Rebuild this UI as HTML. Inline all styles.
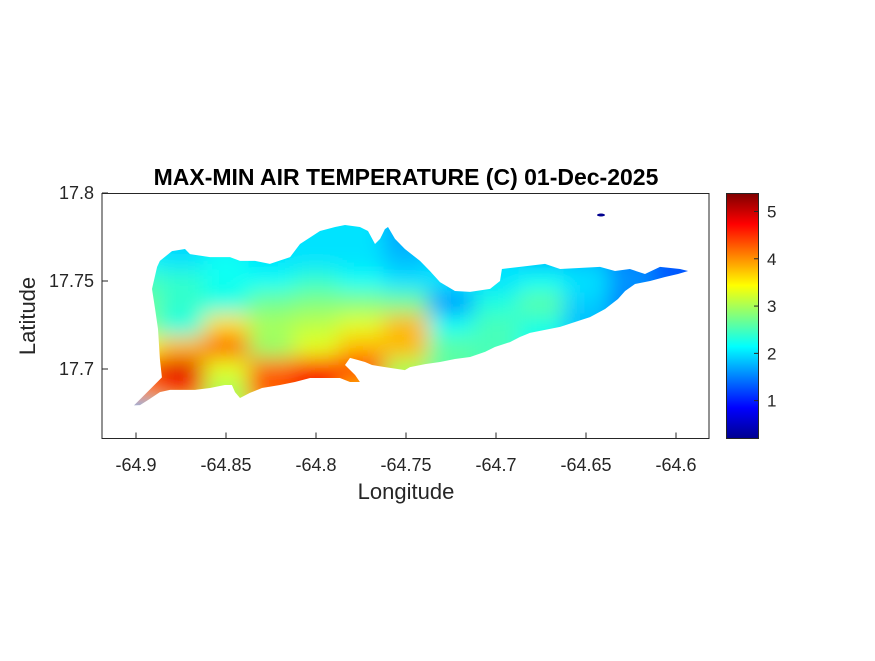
<!DOCTYPE html>
<html><head><meta charset="utf-8"><style>
body{margin:0;background:#fff;}
svg text{font-family:"Liberation Sans",Arial,sans-serif;fill:#262626;}
</style></head><body>
<svg id="chart" width="875" height="656" xmlns="http://www.w3.org/2000/svg">
<defs>
<filter id="blur" x="-20%" y="-20%" width="140%" height="140%"><feGaussianBlur stdDeviation="11"/></filter>
<clipPath id="island"><path id="coastpath" d=""/></clipPath>
<linearGradient id="jet" x1="0" y1="1" x2="0" y2="0">
<stop offset="0" stop-color="#00008f"/><stop offset="0.125" stop-color="#0000ff"/>
<stop offset="0.375" stop-color="#00ffff"/><stop offset="0.625" stop-color="#ffff00"/>
<stop offset="0.875" stop-color="#ff0000"/><stop offset="1" stop-color="#800000"/>
</linearGradient>
</defs>
<g id="heat" clip-path="url(#island)"><g id="cells" filter="url(#blur)"></g></g>
<ellipse cx="601" cy="215" rx="4" ry="1.5" fill="#00008f"/>
<rect x="102" y="193.5" width="607" height="245" fill="none" stroke="#262626" stroke-width="1"/>
<g id="axes"></g>
<text x="406" y="185" text-anchor="middle" font-size="23" font-weight="bold" style="fill:#000">MAX-MIN AIR TEMPERATURE (C) 01-Dec-2025</text>
<text x="406" y="499" text-anchor="middle" font-size="22">Longitude</text>
<text transform="translate(35,316) rotate(-90)" text-anchor="middle" font-size="22">Latitude</text>
<rect x="726.5" y="193.5" width="32" height="245" fill="url(#jet)" stroke="#262626" stroke-width="1"/>
<g id="cbar"></g>
</svg>
<script>
const lonTicks=[-64.9,-64.85,-64.8,-64.75,-64.7,-64.65,-64.6];
const latTicks=[17.7,17.75,17.8];
const cbTicks=[1,2,3,4,5];
const gridLon=[-64.9,-64.875,-64.85,-64.825,-64.8,-64.775,-64.75,-64.725,-64.7,-64.675,-64.65,-64.625,-64.6,-64.575];
const gridLat=[17.775,17.7625,17.75,17.7375,17.725,17.7125,17.7,17.6875,17.675];
const gridVals=[
[2.0,1.9,2.0,2.0,2.0,2.0,1.7,1.8,1.9,1.7,1.6,1.4,1.3,1.3],
[2.1,2.0,2.2,2.0,2.0,2.0,1.8,2.0,2.0,1.8,1.8,1.5,1.3,1.3],
[2.5,2.4,2.2,2.2,2.4,2.2,2.0,2.0,2.0,2.2,2.0,1.6,1.3,1.3],
[2.7,2.4,2.3,2.7,2.8,2.8,2.7,1.6,2.3,2.6,1.9,1.5,1.4,1.4],
[2.8,2.3,3.6,3.0,3.1,3.3,3.8,2.2,2.5,2.3,1.8,1.6,1.5,1.5],
[3.4,3.8,4.3,2.9,3.3,3.8,3.8,2.6,2.5,2.2,2.0,1.8,1.6,1.6],
[4.5,4.9,3.3,4.2,4.6,4.6,3.0,2.6,2.5,2.3,2.0,1.8,1.6,1.6],
[4.0,4.5,3.0,4.4,4.8,3.8,3.0,2.6,2.4,2.2,2.0,1.8,1.6,1.6],
[1.8,3.0,3.0,3.6,3.6,3.0,2.8,2.5,2.3,2.2,2.0,1.8,1.6,1.6]];
const cMin=0.2,cMax=5.38;
const coastLon=[-64.9011,-64.8922,-64.8856,-64.8867,-64.8878,-64.8894,-64.8911,-64.8883,-64.8867,-64.88,-64.8728,-64.87,-64.8589,-64.8478,-64.8422,-64.8339,-64.8256,-64.8144,-64.8089,-64.7978,-64.7894,-64.7839,-64.7756,-64.7711,-64.7672,-64.7644,-64.7617,-64.76,-64.7561,-64.7506,-64.7422,-64.7367,-64.7311,-64.7228,-64.7144,-64.7033,-64.6978,-64.6967,-64.6867,-64.6728,-64.6644,-64.6422,-64.6339,-64.6256,-64.6172,-64.6089,-64.5978,-64.5933,-64.5989,-64.6061,-64.6144,-64.6228,-64.6283,-64.6322,-64.6394,-64.6478,-64.6561,-64.6644,-64.6728,-64.6811,-64.6867,-64.6922,-64.7006,-64.7061,-64.7144,-64.7228,-64.7311,-64.7394,-64.7478,-64.7506,-64.7589,-64.7656,-64.7689,-64.7728,-64.7767,-64.7811,-64.7839,-64.7783,-64.7756,-64.7811,-64.7867,-64.7922,-64.8033,-64.8117,-64.82,-64.83,-64.8367,-64.8422,-64.845,-64.8467,-64.8506,-64.8589,-64.8672,-64.8756,-64.8811,-64.8867,-64.8933,-64.8978,-64.9011];
const coastLat=[17.6793,17.6884,17.6952,17.7057,17.7227,17.7341,17.7455,17.7580,17.7614,17.7670,17.7682,17.7653,17.7636,17.7636,17.7614,17.7614,17.7597,17.7636,17.7710,17.7784,17.7807,17.7818,17.7807,17.7784,17.7710,17.7739,17.7795,17.7807,17.7739,17.7682,17.7614,17.7557,17.7494,17.7443,17.7438,17.7455,17.7500,17.7568,17.7580,17.7597,17.7568,17.7580,17.7557,17.7568,17.7540,17.7580,17.7568,17.7557,17.7540,17.7523,17.7500,17.7483,17.7443,17.7398,17.7341,17.7295,17.7267,17.7239,17.7222,17.7205,17.7182,17.7153,17.7125,17.7097,17.7068,17.7057,17.7040,17.7028,17.7011,17.6994,17.7006,17.7017,17.7023,17.7040,17.7051,17.7063,17.7023,17.6966,17.6926,17.6926,17.6949,17.6949,17.6949,17.6926,17.6909,17.6892,17.6864,17.6835,17.6869,17.6909,17.6909,17.6892,17.6881,17.6881,17.6881,17.6869,17.6824,17.6795,17.6793];
const X=lon=>136+(lon+64.9)*1800;
const Y=lat=>369-(lat-17.7)*1760;
const ns="http://www.w3.org/2000/svg";
function jet(v){const t=Math.max(0,Math.min(1,(v-cMin)/(cMax-cMin)));
 const c=x=>Math.round(255*Math.max(0,Math.min(1,1.5-Math.abs(4*t-x))));
 return `rgb(${c(3)},${c(2)},${c(1)})`;}
function mk(tag,attrs,parent){const e=document.createElementNS(ns,tag);for(const k in attrs)e.setAttribute(k,attrs[k]);parent.appendChild(e);return e;}
let d='';coastLon.forEach((l,i)=>{d+=(i?'L':'M')+X(l).toFixed(1)+','+Y(coastLat[i]).toFixed(1);});
document.getElementById('coastpath').setAttribute('d',d+'Z');
const cells=document.getElementById('cells');
const dx=0.025*1800,dy=0.0125*1760,pad=40;
const nr=gridLat.length,nc=gridLon.length;
gridLat.forEach((la,r)=>gridLon.forEach((lo,c)=>{
 let x0=X(lo)-dx/2,x1=X(lo)+dx/2+0.5,y0=Y(la)-dy/2,y1=Y(la)+dy/2+0.5;
 if(c===0)x0-=pad; if(c===nc-1)x1+=pad; if(r===0)y0-=pad; if(r===nr-1)y1+=pad;
 const e=mk('rect',{x:x0,y:y0,width:x1-x0,height:y1-y0,fill:jet(gridVals[r][c])},cells);
 
 
}));
const ax=document.getElementById('axes');
lonTicks.forEach(v=>{const x=X(v);
 const t=mk('line',{x1:x,x2:x,y1:438.5,y2:432.5,stroke:'#262626'},ax);
 
 
 const s=mk('text',{x:x,y:471,'text-anchor':'middle','font-size':'18'},ax);s.textContent=String(v);
 
 
});
latTicks.forEach(v=>{const y=Y(v);
 const t=mk('line',{x1:102,x2:108,y1:y,y2:y,stroke:'#262626'},ax);
 
 
 const s=mk('text',{x:94,y:y+6,'text-anchor':'end','font-size':'18'},ax);s.textContent=String(v);
 
 
});
const cb=document.getElementById('cbar');
cbTicks.forEach(v=>{const y=438.5-(v-cMin)/(cMax-cMin)*245;
 const t=mk('line',{x1:758.5,x2:754,y1:y,y2:y,stroke:'#262626'},cb);
 
 
 const s=mk('text',{x:767,y:y+6,'font-size':'17'},cb);s.textContent=String(v);
 
 
});
</script>
</body></html>
